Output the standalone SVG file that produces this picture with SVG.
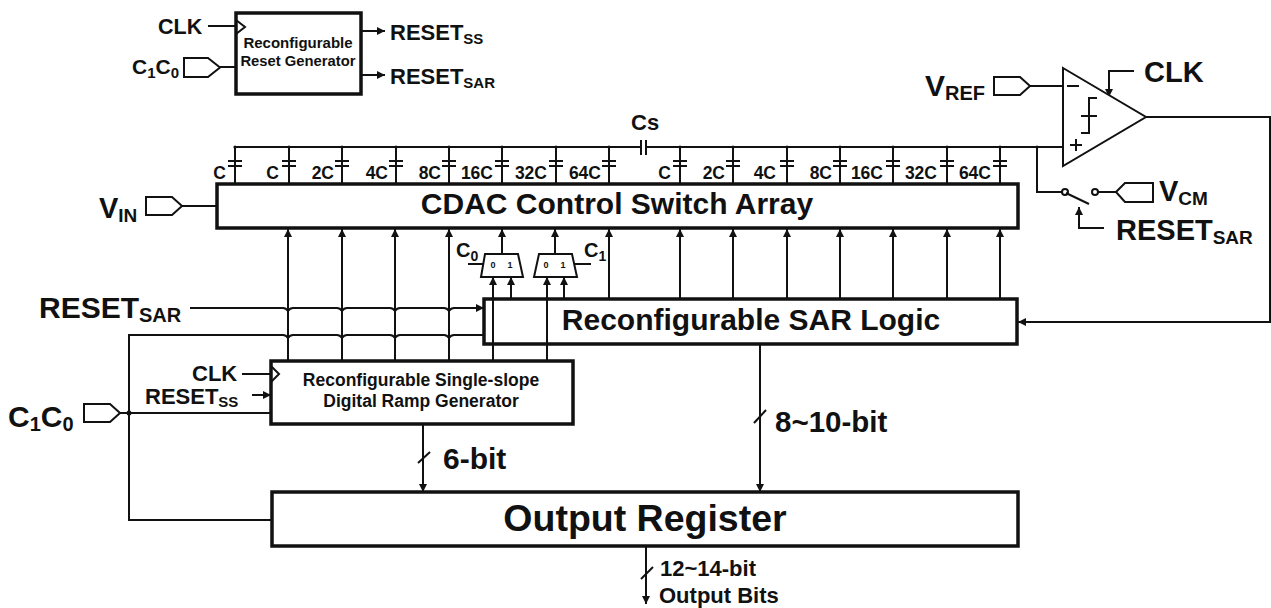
<svg xmlns="http://www.w3.org/2000/svg" width="1271" height="608" viewBox="0 0 1271 608">
<style>
text{font-family:"Liberation Sans",Arial,sans-serif;font-weight:bold;fill:#111}
.box{fill:none;stroke:#111;stroke-width:3.5}
.l{fill:none;stroke:#111;stroke-width:2}
.t{fill:none;stroke:#111;stroke-width:2}
.p{fill:#fff;stroke:#111;stroke-width:2}
.a{marker-end:url(#ah)}
.cl{font-size:17.5px;text-anchor:end}
.m{font-size:9px;text-anchor:middle}
</style>
<defs>
<marker id="ah" markerUnits="userSpaceOnUse" markerWidth="10" markerHeight="10" refX="8" refY="4.5" orient="auto"><path d="M0,0.5L8,4.5L0,8.5Z" fill="#111"/></marker>
<g id="cap"><path class="l" d="M0,0V36M-7,14H7M-7,19H7"/><circle r="1.6" fill="#111"/></g>
</defs>
<rect width="1271" height="608" fill="#fff"/>

<g id="connectors">
<path class="l" d="M235,147H1063"/>
<path class="l" d="M235,147V183"/>
<path class="l" d="M208,26H236"/>
<path class="l a" d="M362,31H385"/>
<path class="l a" d="M362,75H385"/>
<path class="l" d="M220,67H236"/>
<path class="l" d="M182,206H217"/>
<path class="l a" d="M288,361V229"/>
<path class="l a" d="M342,361V229"/>
<path class="l a" d="M395,361V229"/>
<path class="l a" d="M449,361V229"/>
<path class="l a" d="M502,254V229"/>
<path class="l a" d="M555,254V229"/>
<path class="l a" d="M609,299V229"/>
<path class="l a" d="M680,299V229"/>
<path class="l a" d="M733,299V229"/>
<path class="l a" d="M787,299V229"/>
<path class="l a" d="M840,299V229"/>
<path class="l a" d="M893,299V229"/>
<path class="l a" d="M947,299V229"/>
<path class="l a" d="M1000,299V229"/>
<path class="l a" d="M493,361V277"/>
<path class="l a" d="M511,299V277"/>
<path class="l a" d="M547,361V277"/>
<path class="l a" d="M564,299V277"/>
<path class="l" d="M468,264H484M574,264H591"/>
<path class="l a" d="M190,308H283Q286,308 288,311Q290,308 293,308H337Q340,308 342,311Q344,308 347,308H390Q393,308 395,311Q397,308 400,308H444Q447,308 449,311Q451,308 454,308H484"/>
<path class="l" d="M484,335H454Q451,335 449,338Q447,335 444,335H400Q397,335 395,338Q393,335 390,335H347Q344,335 342,338Q340,335 337,335H293Q290,335 288,338Q286,335 283,335H129V520H272"/>
<path class="l" d="M120,413H270"/>
<circle cx="129" cy="413" r="2.5" fill="#111"/>
<path class="l" d="M242,374H270"/>
<path class="l a" d="M252,395H271"/>
<path class="l a" d="M423,424V492"/>
<path class="l" d="M418,463L430,452"/>
<path class="l a" d="M760,344V492"/>
<path class="l" d="M754,423L766,410"/>
<path class="l a" d="M646,546V604"/>
<path class="l" d="M641,579L653,567"/>
<path class="l a" d="M1146,117H1270V322H1018"/>
<path class="l" d="M1030,86H1063"/>
<path class="l a" d="M1134,71H1109V97"/>
<path class="l" d="M1037,147V192H1062"/>
<circle cx="1037" cy="147" r="1.6" fill="#111"/>
<path class="l" d="M1098,192H1116"/>
<path class="l a" d="M1104,228H1079V207"/>
</g>

<g id="reset-generator">
<rect class="box" x="236" y="13" width="125" height="81"/>
<path class="t" d="M236,20L245,27L236,34"/>
<text x="298" y="48" font-size="15" text-anchor="middle">Reconfigurable</text>
<text x="298" y="66" font-size="14.8" text-anchor="middle">Reset Generator</text>
</g>
<g id="clk-top"><text x="158" y="34" font-size="21.5">CLK</text></g>
<g id="c1c0-top">
<text x="132" y="74" font-size="21">C<tspan font-size="15" dy="4">1</tspan><tspan dy="-4">C</tspan><tspan font-size="15" dy="4">0</tspan></text>
<path class="p" d="M184,58H208L220,67.5L208,77H184Z"/>
</g>
<g id="reset-ss-out"><text x="390" y="40" font-size="22">RESET<tspan font-size="15" dy="4">SS</tspan></text></g>
<g id="reset-sar-out"><text x="390" y="84" font-size="22">RESET<tspan font-size="15" dy="4">SAR</tspan></text></g>

<g id="capacitors">
<use href="#cap" x="235" y="147"/><use href="#cap" x="289" y="147"/><use href="#cap" x="342" y="147"/><use href="#cap" x="396" y="147"/><use href="#cap" x="449" y="147"/><use href="#cap" x="502" y="147"/><use href="#cap" x="556" y="147"/><use href="#cap" x="609" y="147"/>
<use href="#cap" x="680" y="147"/><use href="#cap" x="733" y="147"/><use href="#cap" x="787" y="147"/><use href="#cap" x="840" y="147"/><use href="#cap" x="893" y="147"/><use href="#cap" x="947" y="147"/><use href="#cap" x="1000" y="147"/>
<text class="cl" x="226" y="179">C</text><text class="cl" x="279" y="179">C</text><text class="cl" x="334" y="179">2C</text><text class="cl" x="388" y="179">4C</text><text class="cl" x="441" y="179">8C</text><text class="cl" x="493" y="179">16C</text><text class="cl" x="547" y="179">32C</text><text class="cl" x="601" y="179">64C</text>
<text class="cl" x="671" y="179">C</text><text class="cl" x="725" y="179">2C</text><text class="cl" x="776" y="179">4C</text><text class="cl" x="832" y="179">8C</text><text class="cl" x="883" y="179">16C</text><text class="cl" x="937" y="179">32C</text><text class="cl" x="991" y="179">64C</text>
</g>
<g id="cs">
<rect x="642" y="143" width="3" height="8" fill="#fff"/>
<path class="l" d="M641,140V155M646,140V155"/>
<text x="631" y="130" font-size="22">Cs</text>
</g>

<g id="cdac">
<rect class="box" x="217" y="184" width="801" height="44"/>
<text x="617" y="214" font-size="30" text-anchor="middle">CDAC Control Switch Array</text>
</g>
<g id="vin">
<text x="99" y="218" font-size="29">V<tspan font-size="19" dy="4">IN</tspan></text>
<path class="p" d="M146,197H172L182,206L172,215H146Z"/>
</g>

<g id="mux0">
<path class="p" d="M485,254H518L523,277H481Z"/>
<text class="m" x="493" y="268">0</text><text class="m" x="510" y="268">1</text>
<text x="456" y="257" font-size="20">C<tspan font-size="14" dy="4">0</tspan></text>
</g>
<g id="mux1">
<path class="p" d="M539,254H572L577,277H534Z"/>
<text class="m" x="546" y="268">0</text><text class="m" x="563" y="268">1</text>
<text x="584" y="257" font-size="20">C<tspan font-size="14" dy="4">1</tspan></text>
</g>

<g id="sar">
<rect class="box" x="484" y="299" width="533" height="45"/>
<text x="751" y="330" font-size="30" text-anchor="middle">Reconfigurable SAR Logic</text>
</g>
<g id="reset-sar-left"><text x="39" y="318" font-size="30">RESET<tspan font-size="20" dy="4">SAR</tspan></text></g>

<g id="ramp">
<rect class="box" x="271" y="361" width="302" height="63"/>
<path class="t" d="M271,366L279,374L271,382"/>
<text x="421" y="386" font-size="17.5" text-anchor="middle">Reconfigurable Single-slope</text>
<text x="421" y="407" font-size="17.5" text-anchor="middle">Digital Ramp Generator</text>
</g>
<g id="clk-ramp"><text x="192" y="381" font-size="22">CLK</text></g>
<g id="reset-ss-ramp"><text x="145" y="404" font-size="22">RESET<tspan font-size="15" dy="3">SS</tspan></text></g>
<g id="c1c0-left">
<text x="8" y="427" font-size="30">C<tspan font-size="20" dy="4">1</tspan><tspan dy="-4">C</tspan><tspan font-size="20" dy="4">0</tspan></text>
<path class="p" d="M84,404H110L120,413L110,422H84Z"/>
</g>

<g id="output-register">
<rect class="box" x="272" y="492" width="746" height="54"/>
<text x="645" y="531" font-size="37.5" text-anchor="middle">Output Register</text>
</g>
<g id="labels-bits">
<text x="443" y="469" font-size="30">6-bit</text>
<text x="775" y="432" font-size="29.5">8~10-bit</text>
<text x="660" y="576" font-size="22">12~14-bit</text>
<text x="659" y="603" font-size="22">Output Bits</text>
</g>

<g id="comparator">
<path class="p" d="M1063,68L1146,117L1063,166Z" stroke-width="2.5"/>
<path class="l" d="M1067,86H1079M1070,145H1082M1076,139V151"/>
<path class="l" d="M1097,98H1089V133H1081M1081,116H1097"/>
</g>
<g id="vref">
<text x="925" y="96" font-size="30">V<tspan font-size="20" dy="4">REF</tspan></text>
<path class="p" d="M994,77H1020L1030,86L1020,95H994Z"/>
</g>
<g id="clk-comp"><text x="1144" y="82" font-size="29">CLK</text></g>
<g id="switch">
<circle class="p" cx="1065" cy="192" r="3"/>
<circle class="p" cx="1095" cy="192" r="3"/>
<path class="l" d="M1066,193L1089,204"/>
</g>
<g id="vcm">
<path class="p" d="M1116,192L1125,183H1153V202H1125Z"/>
<text x="1159" y="201" font-size="29">V<tspan font-size="19" dy="4">CM</tspan></text>
</g>
<g id="reset-sar-right"><text x="1116" y="240" font-size="29">RESET<tspan font-size="19" dy="4">SAR</tspan></text></g>
</svg>
